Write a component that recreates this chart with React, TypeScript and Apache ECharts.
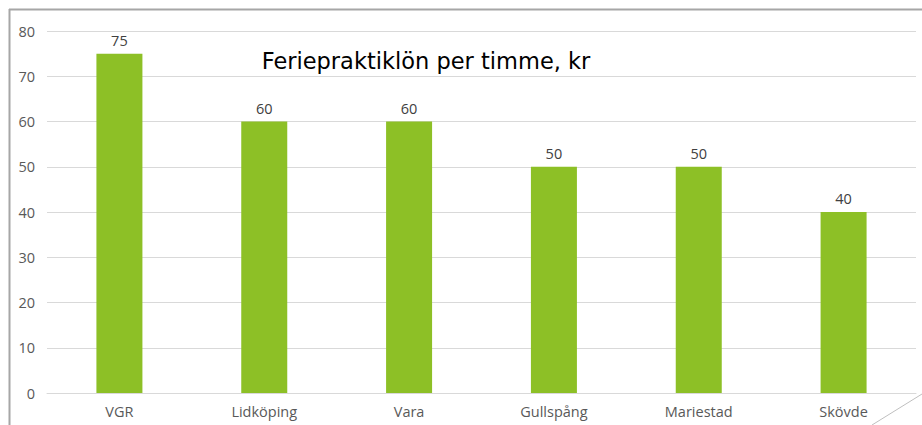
import React, { useEffect, useRef } from "react";
import * as echarts from "echarts";

const categories = ["VGR", "Lidköping", "Vara", "Gullspång", "Mariestad", "Skövde"];
const values = [75, 60, 60, 50, 50, 40];
const titleText = "Feriepraktiklön per timme, kr";

export default function App() {
  const ref = useRef<HTMLDivElement>(null);
  useEffect(() => {
    const chart = echarts.init(ref.current!, null, { renderer: "svg" });
    chart.setOption({
      animation: false,
      backgroundColor: "#ffffff",
      title: {
        text: titleText,
        left: 421,
        top: 44,
        textAlign: "center",
        textStyle: { fontFamily: "DejaVu Sans", fontSize: 22.5, fontWeight: "normal", color: "#000000" },
      },
      grid: { left: 47, right: 6, top: 31, bottom: 32 },
      xAxis: {
        type: "category",
        data: categories,
        axisLine: { show: true, lineStyle: { color: "#d9d9d9" } },
        axisTick: { show: false },
        axisLabel: { color: "#595959", fontFamily: "Open Sans", fontSize: 14.5, margin: 11 },
      },
      yAxis: {
        type: "value",
        min: 0,
        max: 80,
        interval: 10,
        axisLine: { show: false },
        axisTick: { show: false },
        splitLine: { lineStyle: { color: "#d9d9d9" } },
        axisLabel: { color: "#595959", fontFamily: "Open Sans", fontSize: 14.5, margin: 12 },
      },
      series: [
        {
          type: "bar",
          data: values,
          barWidth: 46,
          itemStyle: { color: "#8dc026" },
          label: {
            show: true,
            position: "top",
            distance: 6,
            color: "#404040",
            fontFamily: "Open Sans",
            fontSize: 14.5,
          },
        },
      ],
      graphic: [
        { type: "line", shape: { x1: 9, y1: 9.5, x2: 922, y2: 9.5 }, style: { stroke: "#a6a6a6", lineWidth: 2 } },
        { type: "line", shape: { x1: 9.5, y1: 9, x2: 9.5, y2: 425 }, style: { stroke: "#a6a6a6", lineWidth: 2 } },
        { type: "line", shape: { x1: 922, y1: 394, x2: 872, y2: 425 }, style: { stroke: "#bfbfbf", lineWidth: 1 } },
      ],
    });
    return () => chart.dispose();
  }, []);
  return (
    <div
      ref={ref}
      style={{ position: "fixed", left: 0, top: 0, width: 922, height: 425 }}
    />
  );
}
